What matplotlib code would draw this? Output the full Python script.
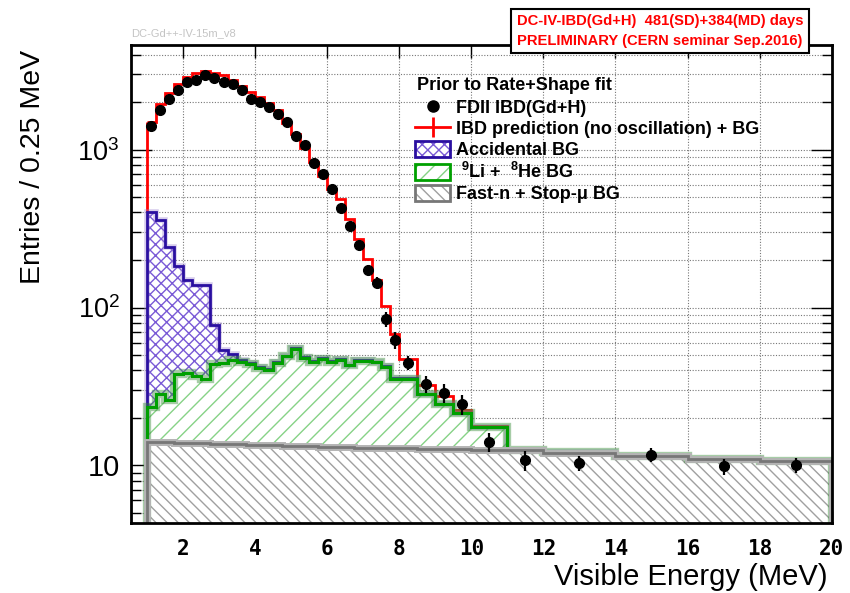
import numpy as np
import matplotlib
matplotlib.use("Agg")
from matplotlib import pyplot as plt
from matplotlib.patches import Patch
from matplotlib.lines import Line2D

# bin edges (MeV) and data, entries / 0.25 MeV
edges = [1.0, 1.25, 1.5, 1.75, 2.0, 2.25, 2.5, 2.75, 3.0, 3.25, 3.5, 3.75, 4.0,
         4.25, 4.5, 4.75, 5.0, 5.25, 5.5, 5.75, 6.0, 6.25, 6.5, 6.75, 7.0, 7.25,
         7.5, 7.75, 8.0, 8.5, 9.0, 9.5, 10.0, 11.0, 12.0, 14.0, 16.0, 18.0, 20.0]

data_x = [1.125, 1.375, 1.625, 1.875, 2.125, 2.375, 2.625, 2.875, 3.125, 3.375,
          3.625, 3.875, 4.125, 4.375, 4.625, 4.875, 5.125, 5.375, 5.625, 5.875,
          6.125, 6.375, 6.625, 6.875, 7.125, 7.375, 7.625, 7.875, 8.25, 8.75,
          9.25, 9.75, 10.5, 11.5, 13.0, 15.0, 17.0, 19.0]
data_y = [1410, 1791, 2103, 2399, 2667, 2773, 2952, 2857, 2679, 2594,
          2376, 2103, 2000, 1860, 1680, 1496, 1214, 1065, 822, 698,
          563, 425, 330, 250, 174, 144, 84, 62.6, 44.8, 32.6,
          28.8, 24.4, 14.1, 10.8, 10.35, 11.7, 9.87, 10.1]
data_err = [37.5, 42.3, 45.9, 49.0, 51.6, 52.7, 54.3, 53.5, 51.8, 50.9,
            48.7, 45.9, 44.7, 43.1, 41.0, 38.7, 34.8, 32.6, 28.7, 26.4,
            23.7, 20.6, 18.2, 15.8, 13.2, 12.0, 9.2, 7.9, 4.7, 4.0,
            3.8, 3.5, 1.9, 1.6, 1.14, 1.21, 1.11, 1.12]

# IBD prediction (no oscillation) + BG
pred = [1500, 1950, 2280, 2620, 2885, 3055, 3146, 3055, 2950, 2773,
        2520, 2317, 2150, 1980, 1780, 1480, 1262, 1020, 840, 685,
        560, 490, 366, 273, 202, 150, 103, 68, 47.5, 32.5,
        27.5, 22.5, 17.8, 12.7, 12.2, 11.4, 11.05, 10.7]

# stacked backgrounds (cumulative tops)
fastn = [14.1, 14.05, 14.0, 13.95, 13.9, 13.85, 13.8, 13.75, 13.7, 13.65,
         13.6, 13.55, 13.5, 13.45, 13.4, 13.35, 13.3, 13.25, 13.2, 13.15,
         13.1, 13.05, 13.0, 12.98, 12.95, 12.92, 12.9, 12.87, 12.84, 12.8,
         12.75, 12.7, 12.6, 12.45, 11.9, 11.4, 11.05, 10.7]
lihe_top = [23.4, 28.2, 25.8, 38.1, 38.4, 36.6, 35.5, 44.1, 44.5, 46.8,
            45.2, 43.7, 41.6, 40.4, 44.6, 49.1, 54.9, 48.2, 45.2, 47.4,
            45.2, 46.8, 43.1, 45.9, 45.9, 45.2, 42.2, 35.5, 35.5, 28.2,
            24.6, 21.5, 17.5, 12.6, 12.2, 11.4, 11.05, 10.7]
acc_top = [403, 357, 241, 182, 150, 138, 138, 77, 54, 51,
           46.4, 44.6, 42.3, 41.1, 45.2, 49.6, 55.4, 48.6, 45.6, 47.8,
           45.6, 47.2, 43.5, 46.3, 46.2, 45.5, 42.5, 35.7, 35.6, 28.2,
           24.6, 21.5, 17.5, 12.6, 12.2, 11.4, 11.05, 10.7]

W, H = 850, 593
YMIN, YMAX = 4.3, 4600

plt.rcParams["font.family"] = ["Liberation Sans", "DejaVu Sans"]
plt.rcParams["mathtext.fontset"] = "custom"
plt.rcParams["mathtext.rm"] = "Liberation Sans"
plt.rcParams["mathtext.bf"] = "Liberation Sans:bold"
plt.rcParams["mathtext.it"] = "Liberation Sans:italic"
plt.rcParams["hatch.linewidth"] = 1.0

fig = plt.figure(figsize=(W / 100, H / 100), dpi=100)
ax = fig.add_axes([130.7 / W, 1 - 523.3 / H, (831.7 - 130.7) / W, (523.3 - 45) / H])
ax.set_yscale("log")
ax.set_xlim(0.55, 20)
ax.set_ylim(YMIN, YMAX)

# prediction line
ax.stairs(pred, edges, baseline=None, color="#ff0000", lw=2, zorder=3)
ax.vlines(edges[0], acc_top[0], pred[0], color="#ff0000", lw=2, zorder=3)

# hatched stacked fills
ax.stairs(fastn, edges, baseline=YMIN, fill=True, facecolor="white",
          edgecolor="#a0a0a0", lw=0, hatch="\\\\\\", zorder=4)
ax.stairs(lihe_top, edges, baseline=fastn, fill=True, facecolor="white",
          edgecolor="#86d286", lw=0, hatch="//", zorder=4)
ax.stairs(acc_top, edges, baseline=lihe_top, fill=True, facecolor="white",
          edgecolor="#7a5ad6", lw=0, hatch="xxx", zorder=4)

# accidental: band + outline
ax.stairs(acc_top, edges, color="#9a80d0", lw=4, alpha=0.4, zorder=5)
ax.stairs(acc_top, edges, baseline=YMIN, color="#2a0fa0", lw=2, zorder=6)
# Li/He: band + outline
ax.stairs(lihe_top, edges, color="#3a8f3a", lw=6, alpha=0.45, zorder=7)
ax.stairs(lihe_top, edges, baseline=YMIN, color="#00a000", lw=2.2, zorder=8)
# fast-n: band + outline
ax.stairs(fastn, edges, color="#b4b4b4", lw=5, zorder=9)
ax.stairs(fastn, edges, baseline=YMIN, color="#777777", lw=2, zorder=9.5)

# data
ax.errorbar(data_x, data_y, yerr=data_err, fmt="o", color="black", ms=7,
            elinewidth=1.6, capsize=0, zorder=10)

# axes styling
ax.set_xticks([2, 4, 6, 8, 10, 12, 14, 16, 18, 20])
ax.set_xticklabels(["2", "4", "6", "8", "10", "12", "14", "16", "18", "20"],
                   family="DejaVu Sans Mono", weight="bold", fontsize=15)
ax.set_yticks([10, 100, 1000])
ax.set_yticklabels(["10", "$10^{2}$", "$10^{3}$"])
for lab, fs in zip(ax.get_yticklabels(), [21, 19.5, 19.5]):
    lab.set_fontsize(fs)
minor = [5, 6, 7, 8, 9, 20, 30, 40, 50, 60, 70, 80, 90,
         200, 300, 400, 500, 600, 700, 800, 900, 2000, 3000, 4000]
ax.set_yticks(minor, minor=True)
ax.set_yticklabels([], minor=True)
ax.xaxis.set_minor_locator(matplotlib.ticker.NullLocator())
ax.tick_params(which="both", direction="in", top=True, right=True, width=1)
ax.tick_params(axis="x", which="major", length=9, pad=11)
ax.tick_params(axis="y", which="major", length=15, pad=8)
ax.tick_params(axis="y", which="minor", length=7.5)
ax.grid(True, which="major", axis="x", ls=(0, (1, 1.5)), color="#777777", lw=0.8)
ax.grid(True, which="both", axis="y", ls=(0, (1, 1.5)), color="#777777", lw=0.8)
for sp in ax.spines.values():
    sp.set_linewidth(2)
    sp.set_zorder(12)

fig.text(828 / W, 1 - 577 / H, "Visible Energy (MeV)", fontsize=21,
         ha="right", va="center")
fig.text(33 / W, 1 - 167 / H, "Entries / 0.25 MeV", fontsize=20.5,
         rotation=90, ha="center", va="center")

# legend
hatch_acc = (Patch(facecolor="white", edgecolor="#7a5ad6", hatch="xxx", lw=0),
             Patch(facecolor="none", edgecolor="#2a0fa0", lw=2))
hatch_li = (Patch(facecolor="white", edgecolor="#86d286", hatch="//", lw=0),
            Patch(facecolor="none", edgecolor="#00a000", lw=2))
hatch_fn = (Patch(facecolor="white", edgecolor="#a0a0a0", hatch="\\\\\\", lw=0),
            Patch(facecolor="none", edgecolor="#777777", lw=2))
handles = [Line2D([], [], ls="none", marker="o", color="black", ms=8),
           Line2D([], [], color="red", lw=2, marker="|", ms=14, mew=2),
           hatch_acc, hatch_li, hatch_fn]
labels = ["FDII IBD(Gd+H)", "IBD prediction (no oscillation) + BG", "Accidental BG",
          r" $^{\mathbf{9}}$Li +  $^{\mathbf{8}}$He BG", "Fast-n + Stop-\u03bc BG"]
leg = ax.legend(handles, labels, loc="upper left",
                bbox_to_anchor=(415 / W, 1 - 99.5 / H), bbox_transform=fig.transFigure,
                frameon=False, borderpad=0, borderaxespad=0, handlelength=1.95,
                handleheight=0.95, handletextpad=0.3, labelspacing=0.16,
                prop={"weight": "bold", "size": 13})
leg.set_zorder(20)
fig.text(417 / W, 1 - 85 / H, "Prior to Rate+Shape fit", fontsize=13,
         weight="bold", ha="left", va="center", zorder=21)

# labels above the frame
fig.text(131 / W, 1 - 33 / H, "DC-Gd++-IV-15m_v8", fontsize=8, color="#c4c4c4",
         ha="left", va="center")
fig.text(517 / W, 1 - 31 / H,
         "DC-IV-IBD(Gd+H)  481(SD)+384(MD) days\nPRELIMINARY (CERN seminar Sep.2016)",
         fontsize=10.6, color="#ff0000", weight="bold", ha="left", va="center",
         linespacing=1.5,
         bbox=dict(boxstyle="square,pad=0.38", fc="white", ec="black", lw=1.5))

fig.savefig("out.png", dpi=100)
